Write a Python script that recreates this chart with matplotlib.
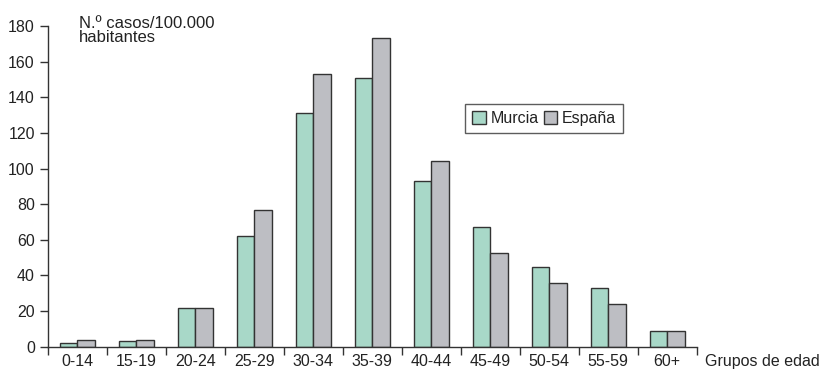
import matplotlib
matplotlib.use("Agg")
import matplotlib.pyplot as plt
import numpy as np

plt.rcParams['font.family'] = ['Liberation Sans', 'DejaVu Sans']

categories = ["0-14", "15-19", "20-24", "25-29", "30-34", "35-39",
              "40-44", "45-49", "50-54", "55-59", "60+"]
murcia = [2, 3.2, 22, 62, 131, 151, 93, 67, 45, 33, 9]
espana = [3.6, 3.8, 22, 76.5, 153, 173, 104, 52.5, 36, 24, 9]
yticks = [0, 20, 40, 60, 80, 100, 120, 140, 160, 180]

fig = plt.figure(figsize=(8.31, 3.72), dpi=100)
ax = fig.add_axes([48/831, 1 - 346.7/372, 648.7/831, (346.7 - 26)/372])

x = np.arange(len(categories))
w = 0.3
ax.bar(x - w/2, murcia, width=w, color="#a8d8c8", edgecolor="#333333",
       linewidth=1.0, label="Murcia")
ax.bar(x + w/2, espana, width=w, color="#bdbec3", edgecolor="#333333",
       linewidth=1.0, label="España")

ax.set_xlim(-0.5, len(categories) - 0.5)
ax.set_ylim(0, 180)
ax.set_yticks(yticks)
ax.set_yticklabels([str(v) for v in yticks])

ax.set_xticks(np.arange(len(categories) + 1) - 0.5)
ax.set_xticklabels([])
ax.set_xticks(x, minor=True)
ax.set_xticklabels(categories, minor=True)
ax.tick_params(axis='x', which='major', length=6, width=1, color="#333333", direction='out')
ax.tick_params(axis='x', which='minor', length=0, pad=5, labelsize=11.5, labelcolor="#222222")
ax.tick_params(axis='y', length=6, width=1, color="#333333", pad=3.5, labelsize=11.5, labelcolor="#222222")

for s in ['top', 'right']:
    ax.spines[s].set_visible(False)
for s in ['left', 'bottom']:
    ax.spines[s].set_color("#333333")
    ax.spines[s].set_linewidth(1.0)

leg = ax.legend(loc='upper left', bbox_to_anchor=(0.643, 0.757), ncol=2,
                fontsize=11.5, frameon=True, fancybox=False, edgecolor="#333333",
                handlelength=0.85, handleheight=0.85, handletextpad=0.3,
                columnspacing=0.3, borderpad=0.45, borderaxespad=0)
leg.get_frame().set_linewidth(1.0)
for t in leg.get_texts():
    t.set_color("#222222")

fig.text(79/831, 1 - 27.7/372, "N.º casos/100.000", fontsize=12,
         ha='left', va='baseline', color="#222222")
fig.text(79/831, 1 - 41.7/372, "habitantes", fontsize=12,
         ha='left', va='baseline', color="#222222")
fig.text(705/831, 1 - 361.5/372, "Grupos de edad", fontsize=11.5,
         ha='left', va='center', color="#222222")

fig.savefig("out.png", dpi=100)
